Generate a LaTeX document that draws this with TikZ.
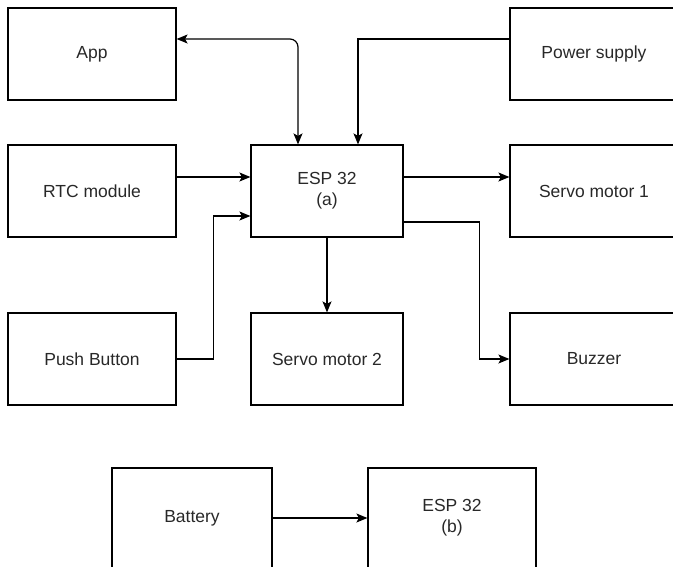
\documentclass[tikz,border=0pt]{standalone}
\usepackage{fontspec}
\setmainfont{Liberation Sans}
\usepackage{tikz}
\usetikzlibrary{arrows.meta,positioning,calc}
\definecolor{labelgrey}{RGB}{40,40,40}
\tikzset{
    blk/.style={draw, line width=1.2pt, minimum width=#1, minimum height=92pt,
                align=center, font=\fontsize{17.5}{21}\selectfont, text=labelgrey,
                inner sep=0pt},
    blk/.default=168pt,
}

\begin{document}
\begin{tikzpicture}[
    x=1pt, y=-1pt,
    arr/.style={-{Stealth[length=11pt,width=9pt,inset=2.5pt]}, line width=1.2pt},
    biarr/.style={{Stealth[length=11pt,width=9pt,inset=2.5pt]}-{Stealth[length=11pt,width=9pt,inset=2.5pt]}, line width=1.2pt}
]
    \useasboundingbox (0,0) rectangle (673,566);

    \node[blk] (app) at (92,54) {App};
    \node[blk] (power) at (594,54) {Power supply};
    \node[blk] (rtc) at (92,191) {RTC module};
    \node[blk=152pt] (esp) at (327,191) {ESP 32\\(a)};
    \node[blk] (servoa) at (594,191) {Servo motor 1};
    \node[blk] (push) at (92,359) {Push Button};
    \node[blk=152pt] (servob) at (327,359) {Servo motor 2};
    \node[blk] (buzzer) at (594,359) {Buzzer};
    \node[blk=160pt, minimum height=100pt] (battery) at (192,518) {Battery};
    \node[blk, minimum height=100pt] (espb) at (452,518) {ESP 32\\(b)};

    \draw[biarr, rounded corners=8pt] ([yshift=15pt]app.east) -| ([xshift=-29pt]esp.north);
    \draw[arr] ([yshift=15pt]power.west) -| ([xshift=31pt]esp.north);
    \draw[arr] ([yshift=14pt]rtc.east) -- ([yshift=14pt]esp.west);
    \draw[arr] ([yshift=14pt]esp.east) -- ([yshift=14pt]servoa.west);
    \draw[arr] (push.east) -- ++(37,0) |- ([yshift=-25pt]esp.west);
    \draw[arr] (esp.south) -- (servob.north);
    \draw[arr] ([yshift=-31pt]esp.east) -- ++(76,0) |- (buzzer.west);
    \draw[arr] (battery.east) -- (espb.west);
\end{tikzpicture}
\end{document}
